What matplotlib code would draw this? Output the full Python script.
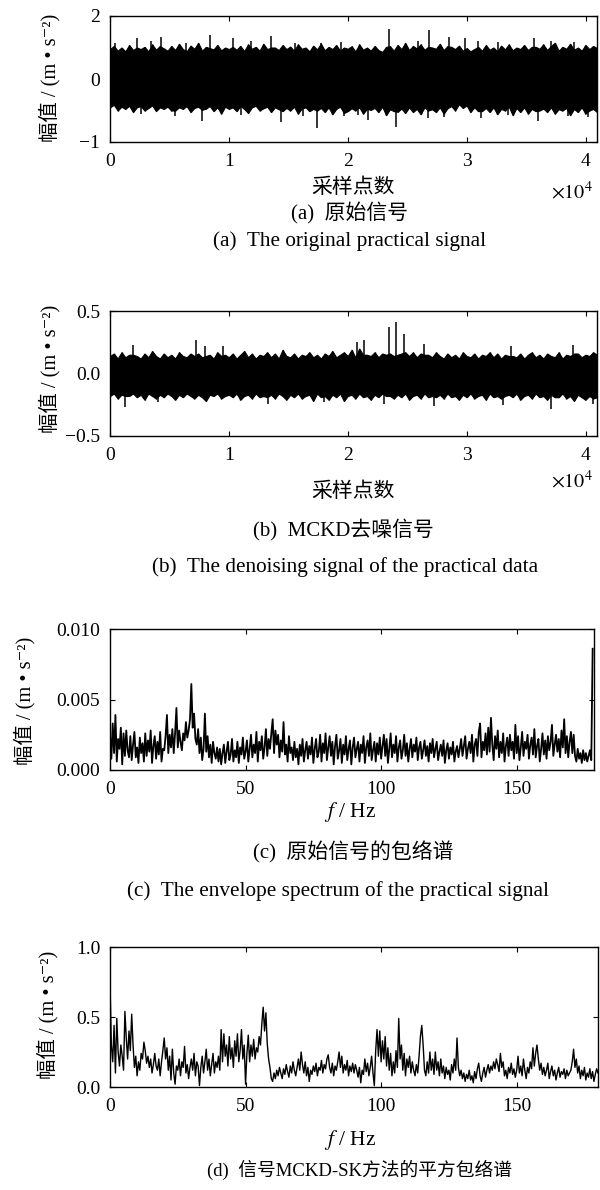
import numpy as np
import matplotlib
matplotlib.use("Agg")
import matplotlib.pyplot as plt

plt.rcParams['font.family'] = ['Liberation Serif', 'Noto Sans CJK SC', 'DejaVu Serif']
plt.rcParams['mathtext.fontset'] = 'stix'
plt.rcParams['axes.unicode_minus'] = True

# ---- (a) raw signal: upper / lower edge of the dense black band, read every ~320 samples
upper_a = [0.95, 1.05, 0.90, 1.00, 0.88, 1.08, 0.92, 1.00, 0.95, 1.02, 0.88, 1.10, 0.93, 1.05, 0.97, 0.90,
           1.05, 0.92, 1.12, 0.95, 0.88, 1.06, 0.96, 1.15, 0.90, 1.02, 0.98, 0.94, 1.08, 0.91, 1.00, 0.95,
           1.02, 0.93, 1.05, 0.89, 1.10, 0.96, 1.02, 0.90, 1.12, 0.95, 1.00, 1.00, 0.92, 1.08, 0.95, 1.03,
           0.90, 1.10, 0.96, 1.00, 0.88, 1.06, 0.94, 1.12, 0.91, 1.02, 0.95, 1.08, 0.90, 1.00, 0.96, 1.04,
           0.88, 1.10, 0.93, 1.00, 0.90, 1.05, 0.92, 0.86, 1.02, 1.04, 0.90, 1.08, 0.95, 1.15, 0.92, 1.05,
           0.97, 1.10, 0.93, 1.02, 1.00, 0.96, 1.12, 0.92, 1.04, 1.02, 0.95, 1.06, 0.90, 0.98, 0.88, 0.95,
           1.02, 0.90, 1.08, 0.93, 1.00, 0.88, 1.06, 0.94, 1.10, 0.91, 1.00, 0.95, 1.08, 0.92, 1.02, 1.02,
           0.96, 1.10, 0.92, 1.05, 1.15, 0.90, 1.02, 0.96, 1.12, 0.93, 1.00, 0.90, 1.08, 0.95, 1.05, 0.98]
lower_a = [-0.90, -0.82, -1.00, -0.88, -0.95, -0.85, -1.05, -0.90, -0.86, -1.00, -0.92, -0.84, -1.02, -0.90, -0.95, -0.88,
           -1.00, -1.00, -0.90, -0.95, -0.86, -1.05, -0.92, -0.88, -0.98, -0.94, -0.86, -1.02, -0.90, -1.10, -0.88, -0.95,
           -0.90, -1.02, -0.86, -0.95, -1.08, -0.90, -0.85, -1.00, -0.93, -0.88, -1.05, -0.90, -0.96, -1.02, -0.92, -1.00,
           -0.88, -1.10, -0.94, -0.90, -1.02, -0.95, -1.00, -0.92, -1.05, -0.90, -1.12, -0.95, -0.88, -1.08, -1.02, -0.93,
           -1.00, -0.90, -1.10, -0.95, -0.98, -0.92, -1.05, -0.88, -1.15, -0.96, -1.02, -1.04, -0.94, -1.08, -0.90, -1.05,
           -0.95, -1.12, -0.90, -1.00, -0.96, -1.05, -0.90, -1.10, -0.93, -0.86, -1.00, -0.80, -0.92, -0.84, -1.05, -0.90,
           -1.02, -1.02, -0.92, -1.05, -0.90, -1.12, -0.95, -1.00, -0.88, -1.15, -0.92, -1.05, -0.90, -1.10, -0.95, -1.02,
           -1.00, -0.94, -1.05, -0.90, -1.10, -0.96, -1.00, -0.92, -1.15, -0.95, -1.05, -0.90, -1.10, -1.00, -0.95, -1.05]
# isolated spikes sticking out of the band (sample index, amplitude)
spike_a_pos = [390, 2300, 2630, 3470, 4300, 5430, 6410, 7760, 8380, 10340, 11040, 11880, 13560, 14400,
               15520, 16220, 17420, 17760, 19440, 19720, 20840, 21680, 23500, 24090, 25880, 26720, 26860,
               28120, 28540, 29860, 30920, 31180, 32600, 33440, 35690, 35970, 37080, 38480, 39040, 40170]
spike_a_val = [1.15, 1.30, -1.12, 1.20, 1.34, -1.19, 1.15, -1.33, 1.39, 1.30, -1.15, 1.20, 1.37, -1.37,
               1.15, -1.18, -1.56, 1.15, 1.18, -1.19, -1.15, -1.30, 1.58, -1.51, 1.22, -1.25, 1.55,
               -1.20, 1.32, 1.30, 1.20, -1.25, 1.18, -1.15, 1.30, -1.33, 1.22, -1.18, 1.18, -1.22]

# ---- (b) MCKD denoised signal
upper_b = [0.14, 0.16, 0.12, 0.17, 0.13, 0.15, 0.15, 0.14, 0.12, 0.16, 0.13, 0.18, 0.14, 0.12, 0.16, 0.13,
           0.15, 0.12, 0.17, 0.14, 0.13, 0.16, 0.14, 0.16, 0.13, 0.14, 0.15, 0.12, 0.17, 0.14, 0.15, 0.13,
           0.16, 0.12, 0.15, 0.18, 0.13, 0.16, 0.12, 0.15, 0.14, 0.17, 0.13, 0.16, 0.12, 0.19, 0.14, 0.13,
           0.16, 0.12, 0.15, 0.14, 0.17, 0.13, 0.15, 0.12, 0.16, 0.14, 0.18, 0.13, 0.15, 0.17, 0.14, 0.19,
           0.13, 0.20, 0.15, 0.15, 0.14, 0.17, 0.13, 0.16, 0.15, 0.16, 0.14, 0.15, 0.16, 0.17, 0.14, 0.17,
           0.13, 0.16, 0.15, 0.15, 0.13, 0.17, 0.14, 0.12, 0.16, 0.13, 0.15, 0.12, 0.17, 0.14, 0.13, 0.16,
           0.12, 0.15, 0.14, 0.17, 0.13, 0.16, 0.12, 0.15, 0.14, 0.14, 0.13, 0.16, 0.12, 0.15, 0.17, 0.13,
           0.15, 0.12, 0.16, 0.14, 0.13, 0.17, 0.12, 0.15, 0.14, 0.16, 0.16, 0.13, 0.15, 0.14, 0.17, 0.15]
lower_b = [-0.18, -0.16, -0.20, -0.17, -0.18, -0.18, -0.16, -0.19, -0.17, -0.21, -0.16, -0.18, -0.20, -0.17, -0.19, -0.16,
           -0.18, -0.21, -0.17, -0.19, -0.16, -0.18, -0.20, -0.17, -0.19, -0.22, -0.17, -0.18, -0.16, -0.20, -0.18, -0.17,
           -0.19, -0.16, -0.21, -0.18, -0.17, -0.20, -0.16, -0.19, -0.18, -0.19, -0.17, -0.20, -0.16, -0.18, -0.21, -0.17,
           -0.19, -0.16, -0.20, -0.18, -0.17, -0.22, -0.16, -0.19, -0.18, -0.21, -0.17, -0.19, -0.16, -0.22, -0.18, -0.17,
           -0.20, -0.16, -0.19, -0.18, -0.21, -0.17, -0.19, -0.16, -0.18, -0.18, -0.20, -0.17, -0.19, -0.16, -0.21, -0.18,
           -0.17, -0.20, -0.16, -0.19, -0.18, -0.19, -0.17, -0.20, -0.16, -0.19, -0.18, -0.21, -0.17, -0.19, -0.16, -0.20,
           -0.18, -0.17, -0.21, -0.16, -0.19, -0.18, -0.20, -0.18, -0.17, -0.19, -0.16, -0.21, -0.18, -0.17, -0.20, -0.16,
           -0.19, -0.18, -0.21, -0.17, -0.19, -0.19, -0.16, -0.20, -0.18, -0.22, -0.17, -0.19, -0.21, -0.18, -0.20, -0.19]
spike_b_pos = [1230, 1930, 4000, 7250, 7950, 9500, 13280, 18000, 20800, 21400, 23080, 23500, 24090,
               24700, 26440, 27280, 33020, 33720, 37090, 38900, 40590]
spike_b_val = [-0.27, 0.23, -0.23, 0.27, 0.22, 0.22, -0.24, -0.23, 0.25, 0.27, -0.24, 0.37, 0.41,
               0.32, 0.24, -0.26, -0.25, 0.22, -0.28, 0.23, -0.24]

# ---- (c) envelope spectrum of raw signal, 0.5 Hz step, values in 1e-3 m/s^2
spec_c = [2.5, 0.8, 3.3, 1.2, 3.9, 0.6, 2.2, 1.5, 3.0, 0.4, 2.6, 1.0, 2.8, 1.4, 0.9, 2.4, 0.7, 1.8, 2.7, 0.9,
          1.6, 0.5, 2.3, 1.2, 1.9, 0.6, 2.6, 1.0, 2.1, 1.3, 2.8, 0.5, 1.7, 2.4, 0.8, 2.0, 1.1, 2.7, 0.6, 1.5,
          1.4, 2.4, 3.9, 1.2, 2.5, 1.6, 2.9, 1.2, 2.6, 4.4, 1.6, 2.8, 2.0, 1.4, 2.6, 2.1, 3.4, 2.3, 2.8, 3.6,
          6.1, 3.0, 4.0, 2.2, 1.8, 2.9, 1.2, 2.3, 0.7, 1.5, 4.0, 1.3, 2.4, 0.9, 1.8, 0.5, 2.0, 1.2, 0.8, 1.6,
          0.6, 1.5, 0.4, 1.2, 1.8, 0.5, 1.3, 2.0, 0.7, 1.1, 2.2, 0.6, 1.4, 0.9, 2.0, 0.5, 1.6, 1.1, 2.3, 0.8,
          1.3, 2.1, 0.6, 1.5, 2.5, 0.9, 1.8, 1.2, 2.7, 0.6, 2.0, 1.4, 2.4, 0.8, 1.6, 2.9, 1.0, 2.2, 1.5, 2.6,
          3.6, 1.2, 2.8, 1.8, 2.5, 0.9, 2.1, 1.3, 3.4, 1.1, 1.8, 0.6, 2.4, 1.2, 1.6, 0.7, 2.0, 0.9, 1.5, 0.4,
          1.8, 1.0, 2.2, 0.6, 1.4, 2.0, 0.8, 1.7, 1.1, 2.3, 0.5, 1.5, 2.2, 0.9, 1.3, 2.5, 0.6, 1.9, 1.2, 2.6,
          0.7, 1.6, 2.4, 1.0, 2.0, 0.4, 1.7, 2.5, 0.8, 1.4, 2.2, 0.5, 1.8, 1.1, 2.4, 0.7, 1.5, 2.1, 0.4, 1.6,
          2.3, 0.9, 1.5, 2.0, 0.6, 1.8, 1.2, 2.4, 0.5, 1.6, 2.1, 1.0, 2.6, 0.7, 1.4, 2.0, 0.6, 1.9, 1.1, 2.3,
          0.8, 1.7, 2.5, 1.0, 2.2, 0.5, 1.5, 2.6, 0.9, 1.8, 1.2, 2.4, 0.6, 1.6, 2.1, 0.8, 1.4, 2.5, 1.0, 1.9,
          0.6, 1.5, 2.2, 0.9, 1.8, 1.3, 2.3, 0.7, 1.6, 2.0, 0.8, 1.4, 2.1, 1.0, 1.7, 0.6, 1.9, 1.2, 2.2, 0.9,
          1.5, 2.0, 0.7, 1.3, 1.8, 1.0, 2.1, 0.5, 1.4, 1.9, 0.8, 1.6, 1.1, 2.0, 0.6, 1.3, 1.7, 0.9, 1.5, 2.2,
          1.0, 1.7, 2.4, 0.8, 1.5, 2.0, 1.2, 2.5, 0.6, 1.8, 2.2, 1.0, 2.7, 3.3, 0.9, 2.0, 1.4, 2.6, 1.1, 3.0,
          1.3, 3.7, 1.8, 0.7, 2.4, 1.5, 2.8, 0.9, 2.0, 1.2, 2.6, 0.6, 1.7, 2.3, 1.0, 2.5, 1.4, 2.0, 0.8, 3.2,
          1.2, 2.4, 0.7, 1.6, 2.7, 1.0, 2.0, 1.5, 2.5, 0.8, 1.8, 2.3, 1.1, 2.9, 0.9, 1.7, 2.2, 0.6, 1.5, 2.6,
          1.1, 2.1, 0.8, 2.4, 1.4, 2.0, 3.2, 1.0, 1.8, 2.5, 1.3, 2.2, 0.9, 2.8, 1.6, 3.6, 1.2, 2.4, 0.9, 2.0,
          2.7, 1.2, 2.5, 1.0, 0.6, 1.5, 0.8, 1.2, 0.5, 1.4, 0.7, 1.2, 0.6, 1.0, 1.4, 0.7, 8.6]

# ---- (d) squared envelope spectrum (MCKD-SK), 0.5 Hz step
spec_d = [0.74, 0.30, 0.18, 0.44, 0.10, 0.49, 0.25, 0.15, 0.30, 0.22, 0.12, 0.54, 0.35, 0.20, 0.40, 0.26, 0.52, 0.30, 0.14, 0.22,
          0.08, 0.18, 0.12, 0.24, 0.20, 0.32, 0.26, 0.17, 0.22, 0.14, 0.20, 0.10, 0.16, 0.24, 0.15, 0.12, 0.20, 0.08, 0.18, 0.26,
          0.35, 0.20, 0.28, 0.12, 0.22, 0.05, 0.27, 0.10, 0.02, 0.15, 0.12, 0.20, 0.08, 0.18, 0.14, 0.29, 0.10, 0.16, 0.06, 0.14,
          0.20, 0.12, 0.24, 0.08, 0.18, 0.15, 0.01, 0.14, 0.22, 0.10, 0.18, 0.27, 0.12, 0.20, 0.08, 0.16, 0.24, 0.10, 0.18, 0.14,
          0.22, 0.12, 0.41, 0.18, 0.38, 0.22, 0.30, 0.15, 0.36, 0.20, 0.28, 0.14, 0.33, 0.22, 0.38, 0.18, 0.26, 0.41, 0.20, 0.30,
          0.02, 0.24, 0.37, 0.18, 0.30, 0.22, 0.34, 0.20, 0.28, 0.25, 0.36, 0.30, 0.45, 0.57, 0.40, 0.53, 0.31, 0.20, 0.14, 0.06,
          0.04, 0.10, 0.06, 0.12, 0.08, 0.14, 0.10, 0.06, 0.13, 0.09, 0.16, 0.11, 0.07, 0.15, 0.10, 0.18, 0.12, 0.08, 0.14, 0.20,
          0.12, 0.25, 0.16, 0.10, 0.18, 0.08, 0.14, 0.04, 0.12, 0.09, 0.15, 0.11, 0.17, 0.08, 0.14, 0.12, 0.19, 0.10, 0.16, 0.13,
          0.20, 0.23, 0.14, 0.10, 0.17, 0.08, 0.15, 0.12, 0.18, 0.25, 0.14, 0.22, 0.10, 0.16, 0.12, 0.19, 0.08, 0.15, 0.11, 0.17,
          0.10, 0.16, 0.12, 0.07, 0.14, 0.03, 0.12, 0.09, 0.20, 0.11, 0.17, 0.08, 0.14, 0.22, 0.10, 0.01, 0.26, 0.41, 0.22, 0.40,
          0.18, 0.33, 0.20, 0.36, 0.15, 0.28, 0.12, 0.24, 0.08, 0.18, 0.10, 0.26, 0.14, 0.49, 0.20, 0.30, 0.12, 0.24, 0.08, 0.20,
          0.14, 0.22, 0.10, 0.18, 0.12, 0.08, 0.16, 0.10, 0.22, 0.36, 0.44, 0.30, 0.12, 0.08, 0.18, 0.10, 0.25, 0.12, 0.20, 0.09,
          0.25, 0.12, 0.18, 0.08, 0.20, 0.10, 0.15, 0.06, 0.14, 0.09, 0.12, 0.05, 0.16, 0.10, 0.20, 0.12, 0.35, 0.14, 0.08, 0.12,
          0.06, 0.10, 0.04, 0.09, 0.06, 0.12, 0.05, 0.08, 0.03, 0.11, 0.06, 0.13, 0.17, 0.08, 0.04, 0.10, 0.14, 0.07, 0.12, 0.16,
          0.10, 0.15, 0.12, 0.18, 0.13, 0.20, 0.16, 0.11, 0.24, 0.14, 0.18, 0.08, 0.12, 0.06, 0.14, 0.10, 0.17, 0.09, 0.13, 0.07,
          0.12, 0.22, 0.10, 0.15, 0.08, 0.20, 0.12, 0.06, 0.14, 0.10, 0.18, 0.13, 0.28, 0.15, 0.24, 0.30, 0.20, 0.12, 0.17, 0.09,
          0.14, 0.08, 0.12, 0.17, 0.06, 0.11, 0.15, 0.08, 0.12, 0.05, 0.10, 0.14, 0.07, 0.11, 0.09, 0.13, 0.06, 0.12, 0.08, 0.10,
          0.12, 0.18, 0.27, 0.14, 0.20, 0.10, 0.15, 0.06, 0.12, 0.08, 0.14, 0.05, 0.10, 0.07, 0.13, 0.06, 0.11, 0.04, 0.09, 0.13,
          0.10]

n_samples = 40960
freq_step = 0.5

W, H = 600, 1190
fig = plt.figure(figsize=(W / 100, H / 100), dpi=100)


def add_ax(left, right, top, bottom):
    # pixel box -> figure fraction
    return fig.add_axes([left / W, 1 - bottom / H, (right - left) / W, (bottom - top) / H])


def ftext(x, y, s, **kw):
    fig.text(x / W, 1 - y / H, s, ha='center', va='center', **kw)


def style(ax):
    ax.tick_params(direction='in', top=True, right=True, length=3.5, width=0.8, labelsize=14)
    ax.tick_params(axis='x', pad=8)
    ax.tick_params(axis='y', pad=7)
    for sp in ax.spines.values():
        sp.set_linewidth(1.0)


def band(ax, lower, upper, sp_pos, sp_val):
    xs = np.linspace(0, n_samples, len(upper))
    ax.fill_between(xs, lower, upper, color='black', linewidth=0.8)
    ax.vlines(xs, lower, upper, color='black', linewidth=1.0)
    ax.vlines(sp_pos, 0, sp_val, color='black', linewidth=1.1)


ylab = '幅值 / (m • s⁻²)'
cap_en = 15.3
cap_cn = 15

# (a)
ax = add_ax(110, 597, 16, 142)
band(ax, lower_a, upper_a, spike_a_pos, spike_a_val)
ax.set_xlim(0, n_samples)
ax.set_ylim(-2, 2)
ax.set_xticks([0, 10000, 20000, 30000, 40000], ['0', '1', '2', '3', '4'])
ax.set_yticks([-2, 0, 2], ['\u22121', '0', '2'])
style(ax)
ftext(50, 78, ylab, rotation=90, fontsize=14.7)
ftext(353, 188, '采样点数', fontsize=15)
ftext(572, 193, r'$\times10^{4}$', fontsize=14.5)
ftext(350, 213, '(a)  原始信号', fontsize=cap_cn)
ftext(350, 241, '(a)  The original practical signal', fontsize=cap_en)

# (b)
ax = add_ax(110, 597, 311, 436)
band(ax, lower_b, upper_b, spike_b_pos, spike_b_val)
ax.set_xlim(0, n_samples)
ax.set_ylim(-0.5, 0.5)
ax.set_xticks([0, 10000, 20000, 30000, 40000], ['0', '1', '2', '3', '4'])
ax.set_yticks([-0.5, 0, 0.5], ['\u22120.5', '0.0', '0.5'])
style(ax)
ftext(50, 369, ylab, rotation=90, fontsize=14.7)
ftext(353, 492, '采样点数', fontsize=15)
ftext(572, 482, r'$\times10^{4}$', fontsize=14.5)
ftext(343, 530, '(b)  MCKD去噪信号', fontsize=cap_cn)
ftext(345, 567, '(b)  The denoising signal of the practical data', fontsize=cap_en)

# (c)
ax = add_ax(110, 594, 629, 770)
fc = np.arange(len(spec_c)) * freq_step
ax.plot(fc, np.array(spec_c) * 1e-3, color='black', linewidth=1.3)
ax.set_xlim(0, 178.5)
ax.set_ylim(0, 0.01)
ax.set_xticks([0, 50, 100, 150])
ax.set_yticks([0, 0.005, 0.01], ['0.000', '0.005', '0.010'])
style(ax)
ftext(25, 701, ylab, rotation=90, fontsize=14.7)
ftext(350, 812, '$f$ / Hz', fontsize=15.5)
ftext(353, 852, '(c)  原始信号的包络谱', fontsize=cap_cn)
ftext(338, 891, '(c)  The envelope spectrum of the practical signal', fontsize=cap_en)

# (d)
ax = add_ax(110, 598, 947, 1087)
fd = np.arange(len(spec_d)) * freq_step
ax.plot(fd, spec_d, color='black', linewidth=1.0)
ax.set_xlim(0, 180)
ax.set_ylim(0, 1.0)
ax.set_xticks([0, 50, 100, 150])
ax.set_yticks([0, 0.5, 1.0], ['0.0', '0.5', '1.0'])
style(ax)
ftext(48, 1015, ylab, rotation=90, fontsize=14.7)
ftext(350, 1140, '$f$ / Hz', fontsize=15.5)
ftext(359, 1170, '(d)  信号MCKD-SK方法的平方包络谱', fontsize=13.5)

fig.savefig('out.png', dpi=100)
